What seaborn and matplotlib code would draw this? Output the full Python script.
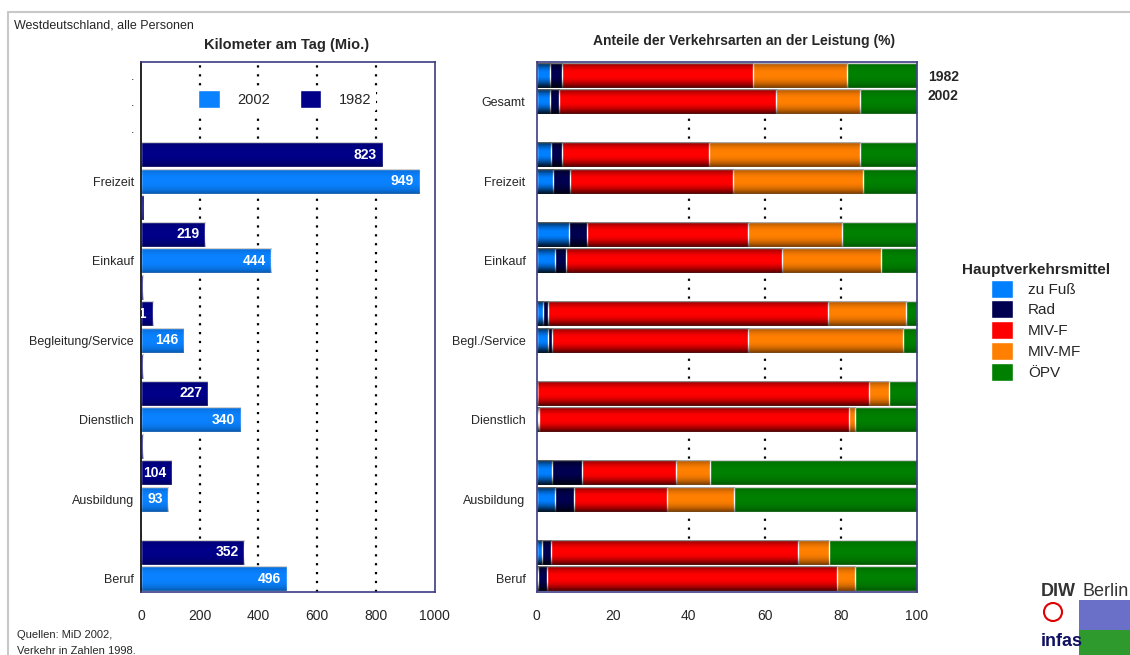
#!/usr/bin/env python
# Kilometer am Tag und Anteile der Verkehrsarten, Westdeutschland 1982 / 2002

import numpy as np
import pandas as pd
import matplotlib
matplotlib.use('Agg')
import matplotlib.pyplot as plt
import matplotlib.transforms as mtransforms
from matplotlib.patches import Patch, Rectangle, Ellipse
from matplotlib.lines import Line2D
import seaborn as sns

# --- Daten links: Kilometer am Tag (Mio.) ---
ZWECKE = ['Freizeit', 'Einkauf', 'Begleitung/Service', 'Dienstlich', 'Ausbildung', 'Beruf']
KM_1982 = [823, 219, 41, 227, 104, 352]
KM_2002 = [949, 444, 146, 340, 93, 496]
KM_REST = [10, 8, 8, 8, 3]          # schmale Reste unter den Balken

# --- Daten rechts: Anteile an der Leistung (%) ---
GRUPPEN = ['Gesamt', 'Freizeit', 'Einkauf', 'Begl./Service', 'Dienstlich', 'Ausbildung', 'Beruf']
MODI = ['zu Fuß', 'Rad', 'MIV-F', 'MIV-MF', 'ÖPV']
FUSS_1982 = [3.5, 3.8, 8.4, 1.7, 0.0, 4.1, 1.3]
RAD_1982 = [3.1, 2.8, 4.8, 1.3, 0.0, 7.7, 2.5]
MIVF_1982 = [50.2, 38.7, 42.5, 73.7, 87.4, 24.9, 65.0]
MIVMF_1982 = [24.9, 39.9, 24.6, 20.5, 5.2, 8.8, 8.0]
OEPV_1982 = [18.3, 14.8, 19.7, 2.8, 7.4, 54.5, 23.2]
FUSS_2002 = [3.5, 4.4, 4.9, 3.1, 0.4, 4.9, 0.3]
RAD_2002 = [2.4, 4.4, 2.7, 0.9, 0.2, 4.8, 2.4]
MIVF_2002 = [57.1, 42.8, 56.9, 51.6, 81.5, 24.7, 76.2]
MIVMF_2002 = [22.2, 34.3, 26.0, 40.8, 1.7, 17.5, 4.9]
OEPV_2002 = [14.8, 14.1, 9.5, 3.6, 16.2, 48.1, 16.2]

FARBEN_MODI = ['#0080ff', '#000050', '#ff0000', '#ff8000', '#008000']
C_1982 = '#000088'
C_2002 = '#0a82ff'
RAHMEN = '#3c3c84'

sns.set_style('white')
plt.rcParams['font.family'] = ['Liberation Sans', 'DejaVu Sans']

fig = plt.figure(figsize=(11.3, 6.55), dpi=100)
W, H = 1130, 655


def px_axes(x0, y0, x1, y1):
    return fig.add_axes([x0 / W, 1 - y1 / H, (x1 - x0) / W, (y1 - y0) / H])


def shade_bars(ax):
    # dunklere Ober- und Unterkante wie im Original (Zylinder-Effekt)
    t = np.linspace(0, 1, 40)
    alpha = 0.32 * (np.abs(t - 0.45) / 0.55) ** 2.5
    grad = np.zeros((40, 1, 4))
    grad[:, 0, 3] = alpha
    for p in list(ax.patches):
        if not isinstance(p, Rectangle) or p.get_width() <= 0:
            continue
        x0, y0 = p.get_x(), p.get_y()
        ax.imshow(grad, extent=[x0, x0 + p.get_width(), y0 + p.get_height(), y0],
                  aspect='auto', interpolation='bilinear', zorder=p.get_zorder() + 0.01)


# ================= linkes Diagramm =================
ax1 = px_axes(141, 62, 434.5, 592)
rows = []
for k in range(3):
    rows.append(('top%d' % k, 0, 'leer'))
for i, z in enumerate(ZWECKE):
    rows.append((z + '|1982', KM_1982[i], '1982'))
    rows.append((z + '|2002', KM_2002[i], '2002'))
    if i < len(KM_REST):
        rows.append((z + '|rest', KM_REST[i], 'rest'))
df_km = pd.DataFrame(rows, columns=['zeile', 'km', 'serie'])
order_km = list(df_km['zeile'])

for g in [200, 400, 600, 800]:
    ax1.axvline(g, color='black', linestyle=(0, (1, 3)), linewidth=1.6, zorder=0)

sns.barplot(data=df_km, y='zeile', x='km', hue='serie', order=order_km, orient='h',
            palette={'leer': 'white', '1982': C_1982, '2002': C_2002, 'rest': C_1982},
            dodge=False, width=0.94, legend=False, ax=ax1, zorder=2, saturation=1)
shade_bars(ax1)

off = mtransforms.offset_copy(ax1.transData, fig=fig, x=-4, y=0, units='points')
for i, r in df_km.iterrows():
    if r['serie'] in ('1982', '2002'):
        ax1.text(r['km'], i, str(r['km']), transform=off, ha='right', va='center',
                 color='white', fontsize=10, fontweight='bold', clip_on=True, zorder=5)

ylab1 = []
for z in order_km:
    if z.startswith('top'):
        ylab1.append('.')
    elif z.endswith('|2002'):
        ylab1.append(z.split('|')[0])
    else:
        ylab1.append('')
ax1.set_yticks(range(len(order_km)))
ax1.set_yticklabels(ylab1, fontsize=9)
ax1.set_xlim(0, 1000)
ax1.set_ylim(len(order_km) - 0.5, -0.5)
ax1.set_xticks(range(0, 1001, 200))
ax1.set_xticks(range(0, 1001, 100), minor=True)
ax1.tick_params(axis='x', which='both', direction='out', length=4, labelsize=10, color='black', pad=8)
ax1.tick_params(axis='y', length=0, pad=5)
ax1.set_xlabel('')
ax1.set_ylabel('')
for s in ax1.spines.values():
    s.set_color(RAHMEN)
    s.set_linewidth(1.2)
ax1.spines['left'].set_color('black')

leg1 = ax1.legend(handles=[Patch(facecolor=C_2002), Patch(facecolor=C_1982)], labels=['2002', '1982'],
                  ncol=2, loc='center', bbox_to_anchor=(0.49, 0.93), fontsize=10.5, frameon=True,
                  facecolor='white', edgecolor='none', framealpha=1, handlelength=1.5, handleheight=1.5,
                  handletextpad=1.2, columnspacing=2.0, borderpad=0.3)
leg1.set_zorder(6)

# ================= rechtes Diagramm =================
ax2 = px_axes(536.7, 62, 916.7, 592)
anteile = {
    '1982': [FUSS_1982, RAD_1982, MIVF_1982, MIVMF_1982, OEPV_1982],
    '2002': [FUSS_2002, RAD_2002, MIVF_2002, MIVMF_2002, OEPV_2002],
}
order_r = []
recs = []
for gi, g in enumerate(GRUPPEN):
    for jahr in ('1982', '2002'):
        key = g + '|' + jahr
        order_r.append(key)
        cum = np.cumsum([anteile[jahr][m][gi] for m in range(len(MODI))])
        for m, name in enumerate(MODI):
            recs.append((key, name, cum[m]))
    if gi < len(GRUPPEN) - 1:
        order_r.append(g + '|leer')
df_pct = pd.DataFrame(recs, columns=['zeile', 'modus', 'kum'])

for g in [40, 60, 80]:
    ax2.axvline(g, color='black', linestyle=(0, (1, 3)), linewidth=1.6, zorder=0)

# gestapelt: kumulierte Summen von hinten nach vorne zeichnen
for m in reversed(range(len(MODI))):
    sns.barplot(data=df_pct[df_pct['modus'] == MODI[m]], y='zeile', x='kum', order=order_r,
                orient='h', color=FARBEN_MODI[m], width=0.93, ax=ax2, zorder=2,
                saturation=1)
shade_bars(ax2)

ylab2 = [z.split('|')[0] if z.endswith('|2002') else '' for z in order_r]
ax2.set_yticks(range(len(order_r)))
ax2.set_yticklabels(ylab2, fontsize=9)
ax2.set_xlim(0, 100)
ax2.set_ylim(len(order_r) - 0.5, -0.5)
ax2.set_xticks(range(0, 101, 20))
ax2.set_xticks(range(0, 101, 10), minor=True)
ax2.tick_params(axis='x', which='both', direction='out', length=4, labelsize=10, color='black', pad=8)
ax2.tick_params(axis='y', length=0, pad=8)
ax2.set_xlabel('')
ax2.set_ylabel('')
for s in ax2.spines.values():
    s.set_color(RAHMEN)
    s.set_linewidth(1.2)

ax1.set_xlim(0, 1000)
ax2.set_xlim(0, 100)

fig.legend(handles=[Patch(facecolor=c) for c in FARBEN_MODI], labels=MODI,
           title='Hauptverkehrsmittel', title_fontproperties={'weight': 'bold', 'size': 11},
           loc='upper left', bbox_to_anchor=(962 / W, 1 - 263 / H), frameon=False,
           fontsize=11, handlelength=1.45, handleheight=1.45, handletextpad=1.0,
           labelspacing=0.17, borderpad=0, borderaxespad=0)

# --- Texte ---
fig.text(14 / W, 1 - 25 / H, 'Westdeutschland, alle Personen', fontsize=9, va='center')
fig.text(287 / W, 1 - 45 / H, 'Kilometer am Tag (Mio.)', fontsize=10.5, fontweight='bold',
         ha='center', va='center')
fig.text(744 / W, 1 - 41 / H, 'Anteile der Verkehrsarten an der Leistung (%)', fontsize=10,
         fontweight='bold', ha='center', va='center')
fig.text(928 / W, 1 - 77 / H, '1982', fontsize=10, fontweight='bold', va='center')
fig.text(928 / W, 1 - 96 / H, '2002', fontsize=10, fontweight='bold', va='center')
fig.text(17 / W, 1 - 635 / H, 'Quellen: MiD 2002,', fontsize=8, va='center')
fig.text(17 / W, 1 - 651 / H, 'Verkehr in Zahlen 1998.', fontsize=8, va='center')

# äußerer Rahmen (oben und links)
fig.add_artist(Line2D([8 / W, 1], [1 - 12 / H, 1 - 12 / H], transform=fig.transFigure,
                      color='#c8c8c8', linewidth=1.5))
fig.add_artist(Line2D([8 / W, 8 / W], [0, 1 - 12 / H], transform=fig.transFigure,
                      color='#c8c8c8', linewidth=1.5))

# Logos (vereinfacht)
fig.text(1041 / W, 1 - 591 / H, 'DIW', fontsize=13, fontweight='bold', color='#333333', va='center')
fig.text(1083 / W, 1 - 591 / H, 'Berlin', fontsize=13, color='#333333', va='center')
fig.add_artist(Ellipse((1053 / W, 1 - 612 / H), 18 / W, 18 / H, transform=fig.transFigure,
                       facecolor='white', edgecolor='#e00000', linewidth=1.5))
fig.text(1041 / W, 1 - 641 / H, 'infas', fontsize=13, fontweight='bold', color='#101060',
         va='center', family=['Liberation Sans Narrow', 'Liberation Sans'])
fig.add_artist(Rectangle((1079 / W, 0), 51 / W, 25 / H, transform=fig.transFigure,
                         facecolor='#2e9a2e', edgecolor='none'))
fig.add_artist(Rectangle((1079 / W, 25 / H), 51 / W, 30 / H, transform=fig.transFigure,
                         facecolor='#6a70c8', edgecolor='none'))

fig.savefig('out.png', dpi=100)
